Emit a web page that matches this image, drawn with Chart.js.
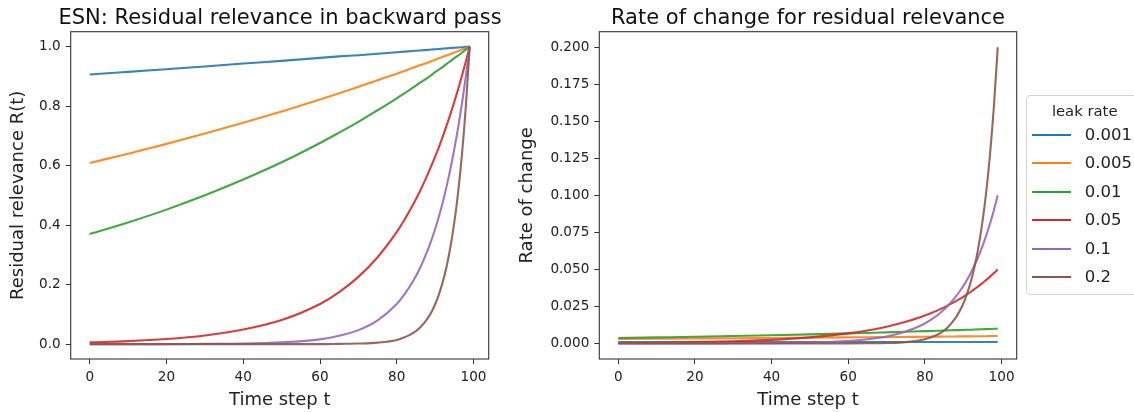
<!DOCTYPE html>
<html>
<head>
<meta charset="utf-8">
<script src="https://cdn.jsdelivr.net/npm/chart.js@4"></script>
<style>
  html, body { margin: 0; padding: 0; background: #fff; overflow: hidden; }
  body { width: 1134px; height: 412px; position: relative; font-family: 'DejaVu Sans', sans-serif; }
  #left { position: absolute; left: 0; top: 0; }
  #right { position: absolute; left: 500px; top: 0; }
  #legend {
    position: absolute; left: 1025.7px; top: 95px; width: 118px; height: 200px;
    box-sizing: border-box; border: 1px solid #d4d4d4; border-radius: 4px; background: #fff;
  }
  #legend .ttl { position: absolute; left: 0; width: 100%; top: 6px; text-align: center; font-size: 14.8px; color: #222; }
  #legend .ln { position: absolute; left: 5px; width: 39px; height: 2px; }
  #legend .lb { position: absolute; left: 58px; font-size: 16.5px; color: #222; line-height: 20px; }
</style>
</head>
<body>
<canvas id="left" width="560" height="412"></canvas>
<canvas id="right" width="634" height="412"></canvas>
<div id="legend"></div>
<script>
const steps = [0, 10, 20, 30, 40, 50, 60, 65, 70, 75, 80, 82, 84, 86, 88, 89, 90, 91, 92, 93, 94, 95, 96, 97, 98, 99];

const leakRates = ['0.001', '0.005', '0.01', '0.05', '0.1', '0.2'];
const colors = ['#1f77b4', '#ff7f0e', '#2ca02c', '#d62728', '#9467bd', '#8c564b'];

// left panel: residual relevance R(t)
const rel001 = [0.906, 0.915, 0.924, 0.933, 0.943, 0.952, 0.962, 0.967, 0.971, 0.976, 0.981, 0.983, 0.985, 0.987, 0.989, 0.990, 0.991, 0.992, 0.993, 0.994, 0.995, 0.996, 0.997, 0.998, 0.999, 1.000];
const rel005 = [0.609, 0.640, 0.673, 0.708, 0.744, 0.782, 0.822, 0.843, 0.865, 0.887, 0.909, 0.918, 0.928, 0.937, 0.946, 0.951, 0.956, 0.961, 0.966, 0.970, 0.975, 0.980, 0.985, 0.990, 0.995, 1.000];
const rel01 = [0.370, 0.409, 0.452, 0.500, 0.553, 0.611, 0.676, 0.711, 0.747, 0.786, 0.826, 0.843, 0.860, 0.878, 0.895, 0.904, 0.914, 0.923, 0.932, 0.942, 0.951, 0.961, 0.970, 0.980, 0.990, 1.000];
const rel05 = [0.006, 0.010, 0.017, 0.029, 0.049, 0.081, 0.135, 0.175, 0.226, 0.292, 0.377, 0.418, 0.463, 0.513, 0.569, 0.599, 0.630, 0.663, 0.698, 0.735, 0.774, 0.815, 0.857, 0.903, 0.950, 1.000];
const rel1 = [0.000, 0.000, 0.000, 0.001, 0.002, 0.006, 0.016, 0.028, 0.047, 0.080, 0.135, 0.167, 0.206, 0.254, 0.314, 0.349, 0.387, 0.430, 0.478, 0.531, 0.590, 0.656, 0.729, 0.810, 0.900, 1.000];
const rel2 = [0, 0, 0, 0, 0, 0, 0.000, 0.001, 0.002, 0.005, 0.014, 0.023, 0.035, 0.055, 0.086, 0.107, 0.134, 0.168, 0.210, 0.262, 0.328, 0.410, 0.512, 0.640, 0.800, 1.000];

// right panel: rate of change
const rate001 = [0.00091, 0.00092, 0.00092, 0.00093, 0.00094, 0.00095, 0.00096, 0.00097, 0.00097, 0.00098, 0.00098, 0.00098, 0.00099, 0.00099, 0.00099, 0.00099, 0.00099, 0.00099, 0.00099, 0.00099, 0.001, 0.001, 0.001, 0.001, 0.001, 0.001];
const rate005 = [0.0030, 0.0032, 0.0034, 0.0035, 0.0037, 0.0039, 0.0041, 0.0042, 0.0043, 0.0044, 0.0045, 0.0046, 0.0046, 0.0047, 0.0047, 0.0048, 0.0048, 0.0048, 0.0048, 0.0049, 0.0049, 0.0049, 0.0049, 0.0050, 0.0050, 0.0050];
const rate01 = [0.0037, 0.0041, 0.0045, 0.0050, 0.0055, 0.0061, 0.0068, 0.0071, 0.0075, 0.0079, 0.0083, 0.0084, 0.0086, 0.0088, 0.0090, 0.0090, 0.0091, 0.0092, 0.0093, 0.0094, 0.0095, 0.0096, 0.0097, 0.0098, 0.0099, 0.0100];
const rate05 = [0.0003, 0.0005, 0.0009, 0.0015, 0.0024, 0.0041, 0.0068, 0.0087, 0.0113, 0.0146, 0.0189, 0.0209, 0.0232, 0.0257, 0.0284, 0.0299, 0.0315, 0.0332, 0.0349, 0.0368, 0.0387, 0.0407, 0.0429, 0.0451, 0.0475, 0.0500];
const rate1 = [0, 0, 0, 0.0001, 0.0002, 0.0006, 0.0016, 0.0028, 0.0047, 0.0080, 0.0135, 0.0167, 0.0206, 0.0254, 0.0314, 0.0349, 0.0387, 0.0430, 0.0478, 0.0531, 0.0590, 0.0656, 0.0729, 0.0810, 0.0900, 0.1000];
const rate2 = [0, 0, 0, 0, 0, 0, 0, 0.0001, 0.0003, 0.0009, 0.0029, 0.0045, 0.0070, 0.0110, 0.0172, 0.0215, 0.0268, 0.0336, 0.0419, 0.0524, 0.0655, 0.0819, 0.1024, 0.1280, 0.1600, 0.2000];

// tick labels
const xTicks = [0, 20, 40, 60, 80, 100];
const leftYTicks = ['0.0', '0.2', '0.4', '0.6', '0.8', '1.0'];
const rightYTicks = ['0.000', '0.025', '0.050', '0.075', '0.100', '0.125', '0.150', '0.175', '0.200'];

Chart.defaults.font.family = "'DejaVu Sans', sans-serif";
Chart.defaults.color = '#222';

// matplotlib style box around the axes
const framePlugin = {
    id: 'frame',
    afterDatasetsDraw(chart) {
        const a = chart.chartArea;
        const ctx = chart.ctx;
        ctx.save();
        ctx.strokeStyle = '#333';
        ctx.lineWidth = 1.1;
        ctx.strokeRect(a.left, a.top, a.right - a.left, a.bottom - a.top);
        ctx.restore();
    }
};

function makeDatasets(seriesList) {
    return seriesList.map((vals, i) => ({
        label: leakRates[i],
        data: steps.map((t, k) => ({ x: t, y: vals[k] })),
        borderColor: colors[i] + 'e6',
        backgroundColor: colors[i],
        borderWidth: 2.1,
        pointRadius: 0,
        cubicInterpolationMode: 'monotone',
        fill: false,
        order: seriesList.length - i
    }));
}

function makeChart(canvasId, opts) {
    const tickGrid = { drawOnChartArea: false, drawTicks: true, tickLength: 5, tickColor: '#333', tickWidth: 1 };
    return new Chart(document.getElementById(canvasId), {
        type: 'line',
        data: { datasets: makeDatasets(opts.series) },
        options: {
            responsive: false,
            animation: false,
            layout: { padding: 0 },
            plugins: {
                legend: { display: false },
                tooltip: { enabled: false },
                title: {
                    display: true,
                    text: opts.title,
                    fullSize: opts.titleFull,
                    color: '#111',
                    font: { size: 21, weight: 'normal' },
                    padding: { top: 6, bottom: 0.5 }
                }
            },
            scales: {
                x: {
                    type: 'linear',
                    min: -4.95,
                    max: 103.95,
                    grid: tickGrid,
                    border: { display: false },
                    afterBuildTicks: (scale) => { scale.ticks = xTicks.map(v => ({ value: v })); },
                    afterFit: (scale) => { scale.height = 53; },
                    ticks: { font: { size: 13.6 }, padding: 5.4, callback: (v) => String(v) },
                    title: { display: true, text: 'Time step t', font: { size: 18 }, padding: { top: 0, bottom: 0.7 } }
                },
                y: {
                    type: 'linear',
                    min: opts.yMin,
                    max: opts.yMax,
                    grid: tickGrid,
                    border: { display: false },
                    afterBuildTicks: (scale) => { scale.ticks = opts.yTicks.map(s => ({ value: parseFloat(s) })); },
                    afterFit: (scale) => { scale.width = opts.yWidth; },
                    ticks: { font: { size: 13.6 }, padding: 5, callback: (v, i) => opts.yTicks[i] },
                    title: { display: true, text: opts.yTitle, font: { size: 18 }, padding: { top: opts.yTitlePad, bottom: 0 } }
                },
                // empty axis on the right, only reserves the space right of the plot
                spacer: {
                    type: 'linear',
                    position: 'right',
                    display: true,
                    grid: { display: false },
                    border: { display: false },
                    ticks: { display: false },
                    afterFit: (scale) => { scale.width = opts.rightSpace; }
                }
            }
        },
        plugins: [framePlugin]
    });
}

// left canvas is 560 wide so the full-width title is centred over the axes (x ~ 280)
makeChart('left', {
    series: [rel001, rel005, rel01, rel05, rel1, rel2],
    title: 'ESN: Residual relevance in backward pass',
    titleFull: true,
    yTitle: 'Residual relevance R(t)',
    yTicks: leftYTicks,
    yMin: -0.05, yMax: 1.05,
    yWidth: 70.7, yTitlePad: 7.4, rightSpace: 71.3
});

makeChart('right', {
    series: [rate001, rate005, rate01, rate05, rate1, rate2],
    title: 'Rate of change for residual relevance',
    titleFull: false,
    yTitle: 'Rate of change',
    yTicks: rightYTicks,
    yMin: -0.0105, yMax: 0.2105,
    yWidth: 99.3, yTitlePad: 16.7, rightSpace: 117.3
});

// legend box, like matplotlib's bbox_to_anchor legend
const legend = document.getElementById('legend');
const ttl = document.createElement('div');
ttl.className = 'ttl';
ttl.textContent = 'leak rate';
legend.appendChild(ttl);
leakRates.forEach((lab, i) => {
    const cy = 40 + 28.45 * i - 1; // centre of row inside the box
    const ln = document.createElement('div');
    ln.className = 'ln';
    ln.style.top = (cy - 1) + 'px';
    ln.style.background = colors[i];
    legend.appendChild(ln);
    const lb = document.createElement('div');
    lb.className = 'lb';
    lb.style.top = (cy - 10) + 'px';
    lb.textContent = lab;
    legend.appendChild(lb);
});
</script>
</body>
</html>
